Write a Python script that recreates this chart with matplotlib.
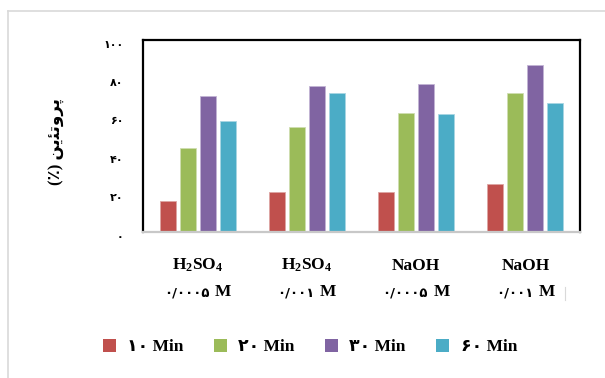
import numpy as np
import matplotlib
matplotlib.use("Agg")
import matplotlib.pyplot as plt
from matplotlib.patches import Patch
from matplotlib.lines import Line2D
from matplotlib.transforms import ScaledTranslation, blended_transform_factory
from matplotlib.offsetbox import TextArea, HPacker, AnnotationBbox

# داده‌ها
solutions = ["H$_2$SO$_4$", "H$_2$SO$_4$", "NaOH", "NaOH"]
concentrations = ["۰/۰۰۰۵", "۰/۰۰۱", "۰/۰۰۰۵", "۰/۰۰۱"]
conc_unit = "M"
times = ["۱۰ Min", "۲۰ Min", "۳۰ Min", "۶۰ Min"]
protein_10 = [16, 21, 21, 25]
protein_20 = [44, 54.5, 62, 72.5]
protein_30 = [71, 76, 77, 87]
protein_60 = [58, 72.5, 61.5, 67]
yticks = [0, 20, 40, 60, 80, 100]
ytick_labels = ["۰", "۲۰", "۴۰", "۶۰", "۸۰", "۱۰۰"]
# "پروتئین (٪)" با حروف شکل‌یافته و ترتیب دیداری
ylabel = "(٪) " + "\uFEE6\uFBFE\uFE8C\uFE97\uFEED\uFEAE\uFB58"

colors = ["#C0504D", "#9BBB59", "#8064A2", "#4BACC6"]
edges = ["#DDA5A3", "#CFDEB0", "#C2B4D4", "#A8D6E3"]

plt.rcParams["mathtext.fontset"] = "custom"
plt.rcParams["mathtext.rm"] = "Liberation Serif:bold"
plt.rcParams["mathtext.it"] = "Liberation Serif:bold"
plt.rcParams["mathtext.bf"] = "Liberation Serif:bold"
plt.rcParams["mathtext.default"] = "rm"
fam = ["Liberation Serif", "DejaVu Sans"]

fig = plt.figure(figsize=(6.05, 3.78), dpi=100)
ax = fig.add_axes([143 / 605, 1 - 232 / 378, 437 / 605, 192 / 378])

x = np.arange(len(solutions))
series = [protein_10, protein_20, protein_30, protein_60]
step = 0.183
width = 0.146
for i, vals in enumerate(series):
    ax.bar(x + (i - 1.5) * step, vals, width=width, color=colors[i],
           edgecolor=edges[i], linewidth=0.6, label=times[i], zorder=2)

ax.set_xlim(-0.5, 3.5)
ax.set_ylim(0, 100)
ax.set_xticks([])
ax.set_yticks(yticks)
ax.set_yticklabels(ytick_labels, fontsize=8, fontweight="bold", family=fam)
ax.tick_params(axis="y", length=0, pad=14)
for lab in ax.get_yticklabels():
    lab.set_transform(lab.get_transform() + ScaledTranslation(0, -4 / 100, fig.dpi_scale_trans))

for side in ["left", "top", "right"]:
    ax.spines[side].set_linewidth(1.6)
    ax.spines[side].set_color("black")
ax.spines["bottom"].set_linewidth(1.6)
ax.spines["bottom"].set_color("#C8C8C8")

ax.set_ylabel(ylabel, fontsize=12, fontweight="bold", family=fam, labelpad=0)
ax.yaxis.set_label_coords(-0.18, 0.47)

# برچسب‌های دو خطی محور افقی
tr = blended_transform_factory(ax.transData, fig.transFigure)
for xi, s, c in zip(x, solutions, concentrations):
    ax.text(xi, 1 - 270 / 378, s, transform=tr, ha="center", va="baseline",
            fontsize=12.5, fontweight="bold", family=fam)
    row = HPacker(children=[
        TextArea(c, textprops=dict(fontsize=9.5, fontweight="bold", family="DejaVu Sans")),
        TextArea(conc_unit, textprops=dict(fontsize=12.5, fontweight="bold", family="Liberation Serif")),
    ], align="baseline", pad=0, sep=4)
    ab = AnnotationBbox(row, (xi, 1 - 292 / 378), xycoords=tr, frameon=False,
                        pad=0, box_alignment=(0.5, 0.5))
    ax.add_artist(ab)

handles = [Patch(facecolor=colors[i], edgecolor="none") for i in range(4)]
fig.legend(handles, times, loc="center", bbox_to_anchor=(310 / 605, 1 - 347 / 378),
           ncol=4, frameon=False, handlelength=0.75, handleheight=0.75,
           handletextpad=0.65, columnspacing=1.75,
           prop={"family": fam, "weight": "bold", "size": 12.5})

# کادر بیرونی
fig.add_artist(Line2D([8 / 605, 1], [1 - 11 / 378] * 2, transform=fig.transFigure,
                      color="#D9D9D9", lw=1.2))
fig.add_artist(Line2D([8 / 605] * 2, [0, 1 - 11 / 378], transform=fig.transFigure,
                      color="#D9D9D9", lw=1.2))
fig.add_artist(Line2D([565 / 605] * 2, [1 - 287 / 378, 1 - 300 / 378],
                      transform=fig.transFigure, color="#D9D9D9", lw=0.8))

fig.savefig("out.png", dpi=100)
